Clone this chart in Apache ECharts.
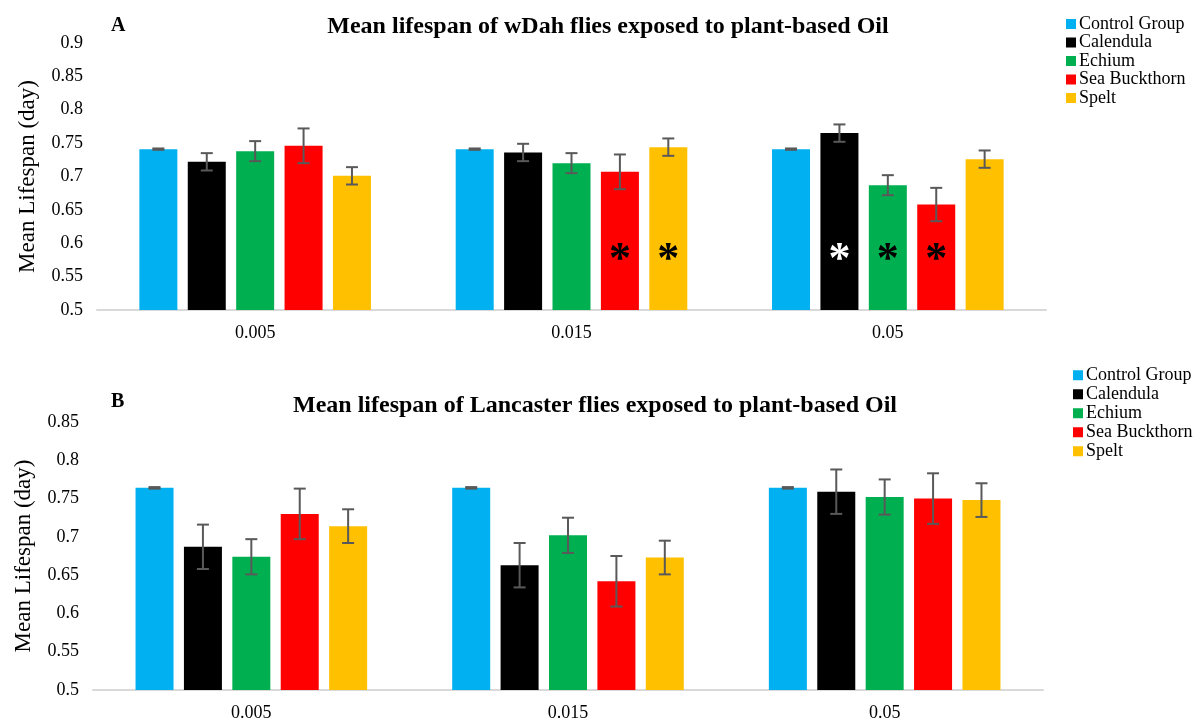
<!DOCTYPE html>
<html>
<head>
<meta charset="utf-8">
<script src="https://cdn.jsdelivr.net/npm/echarts@6/dist/echarts.min.js"></script>
<style>
  html, body { margin: 0; padding: 0; background: #fff; }
  #chart { width: 1202px; height: 722px; }
</style>
</head>
<body>
<div id="chart"></div>
<script>
// Oil concentrations (x categories) and treatment groups
const concentrations = ['0.005', '0.015', '0.05'];
const groups = ['Control Group', 'Calendula', 'Echium', 'Sea Buckthorn', 'Spelt'];
const groupColors = ['#00B0F0', '#000000', '#00B050', '#FF0000', '#FFC000'];

// Panel A: wDah flies — mean lifespan per group, per concentration
const wdahMean = [
  [0.741, 0.741, 0.741],   // Control Group
  [0.722, 0.736, 0.765],   // Calendula
  [0.738, 0.720, 0.687],   // Echium
  [0.746, 0.707, 0.658],   // Sea Buckthorn
  [0.701, 0.744, 0.726]    // Spelt
];
const wdahErr = [
  [0.001, 0.001, 0.001],
  [0.013, 0.013, 0.013],
  [0.015, 0.015, 0.015],
  [0.026, 0.026, 0.025],
  [0.013, 0.013, 0.013]
];
// significance flags (asterisks)
const wdahSig = [
  [false, false, false],
  [false, false, true],
  [false, false, true],
  [false, true, true],
  [false, true, false]
];

// Panel B: Lancaster flies
const lancMean = [
  [0.764, 0.764, 0.764],
  [0.687, 0.663, 0.759],
  [0.674, 0.702, 0.752],
  [0.730, 0.642, 0.750],
  [0.714, 0.673, 0.748]
];
const lancErr = [
  [0.001, 0.001, 0.001],
  [0.029, 0.029, 0.029],
  [0.023, 0.023, 0.023],
  [0.033, 0.033, 0.033],
  [0.022, 0.022, 0.022]
];

const FONT = '"Liberation Serif", "Times New Roman", serif';
const BAR_W = 38;
const BAR_GAP = 10.4;

const chart = echarts.init(document.getElementById('chart'), null, { renderer: 'canvas' });

function barSeries(means, sig, axisIdx) {
  return groups.map((name, s) => ({
    name: name,
    type: 'bar',
    xAxisIndex: axisIdx,
    yAxisIndex: axisIdx,
    barWidth: BAR_W,
    barGap: (BAR_GAP / BAR_W * 100) + '%',
    itemStyle: { color: groupColors[s] },
    emphasis: { disabled: true },
    data: means[s].map((v, c) => {
      const item = { value: v };
      if (sig && sig[s][c]) {
        item.label = {
          show: true,
          formatter: '*',
          position: 'insideBottom',
          distance: 27,
          fontFamily: FONT,
          fontWeight: 'bold',
          fontSize: 44,
          color: groupColors[s] === '#000000' ? '#ffffff' : '#000000'
        };
      }
      return item;
    }),
    z: 2
  }));
}

function errorSeries(means, errs, axisIdx) {
  const n = groups.length;
  return groups.map((name, s) => ({
    name: name,
    type: 'custom',
    xAxisIndex: axisIdx,
    yAxisIndex: axisIdx,
    silent: true,
    z: 5,
    data: means[s].map((v, c) => [c, v - errs[s][c], v + errs[s][c]]),
    renderItem: function (params, api) {
      const c = api.value(0);
      const lo = api.coord([c, api.value(1)]);
      const hi = api.coord([c, api.value(2)]);
      const off = (s - (n - 1) / 2) * (BAR_W + BAR_GAP);
      const x = lo[0] + off;
      const cap = 6;
      const st = { stroke: '#595959', lineWidth: 2 };
      return {
        type: 'group',
        children: [
          { type: 'line', shape: { x1: x, y1: lo[1], x2: x, y2: hi[1] }, style: st },
          { type: 'line', shape: { x1: x - cap, y1: lo[1], x2: x + cap, y2: lo[1] }, style: st },
          { type: 'line', shape: { x1: x - cap, y1: hi[1], x2: x + cap, y2: hi[1] }, style: st }
        ]
      };
    }
  }));
}

function xAxisCfg(gridIdx) {
  return {
    type: 'category',
    gridIndex: gridIdx,
    data: concentrations,
    axisLine: { lineStyle: { color: '#d9d9d9', width: 2 } },
    axisTick: { show: false },
    axisLabel: { fontFamily: FONT, fontSize: 18, color: '#000', margin: 14 }
  };
}

function yAxisCfg(gridIdx, min, max) {
  return {
    type: 'value',
    gridIndex: gridIdx,
    min: min,
    max: max,
    interval: 0.05,
    name: 'Mean Lifespan (day)',
    nameLocation: 'middle',
    nameGap: 58,
    nameTextStyle: { fontFamily: FONT, fontSize: 23, color: '#000' },
    axisLine: { show: false },
    axisTick: { show: false },
    splitLine: { show: false },
    axisLabel: {
      fontFamily: FONT, fontSize: 18, color: '#000', margin: 14,
      formatter: v => String(Math.round(v * 100) / 100)
    }
  };
}

function legendCfg(left, top, lineH) {
  return {
    orient: 'vertical',
    left: left,
    top: top,
    icon: 'rect',
    itemWidth: 10,
    itemHeight: 10,
    itemGap: 0.5,
    selectedMode: false,
    data: groups,
    textStyle: { fontFamily: FONT, fontSize: 18, color: '#000', padding: [0, 0, 0, -2], lineHeight: lineH }
  };
}

const option = {
  backgroundColor: '#ffffff',
  animation: false,
  color: groupColors,
  textStyle: { fontFamily: FONT },
  title: [
    { text: 'Mean lifespan of wDah flies exposed to plant-based Oil', left: 603, top: 10, textAlign: 'center',
      textStyle: { fontFamily: FONT, fontSize: 24, fontWeight: 'bold', color: '#000' } },
    { text: 'A', left: 106, top: 11,
      textStyle: { fontFamily: FONT, fontSize: 20, fontWeight: 'bold', color: '#000' } },
    { text: 'Mean lifespan of Lancaster flies exposed to plant-based Oil', left: 590, top: 389, textAlign: 'center',
      textStyle: { fontFamily: FONT, fontSize: 24, fontWeight: 'bold', color: '#000' } },
    { text: 'B', left: 106, top: 387,
      textStyle: { fontFamily: FONT, fontSize: 20, fontWeight: 'bold', color: '#000' } }
  ],
  legend: [legendCfg(1061, 10, 18), legendCfg(1068, 361, 18.5)],
  grid: [
    { left: 97, top: 43, width: 949, height: 267 },
    { left: 93, top: 422, width: 950, height: 268 }
  ],
  xAxis: [xAxisCfg(0), xAxisCfg(1)],
  yAxis: [yAxisCfg(0, 0.5, 0.9), yAxisCfg(1, 0.5, 0.85)],
  series: [
    ...barSeries(wdahMean, wdahSig, 0),
    ...barSeries(lancMean, null, 1),
    ...errorSeries(wdahMean, wdahErr, 0),
    ...errorSeries(lancMean, lancErr, 1)
  ]
};

chart.setOption(option);
</script>
</body>
</html>
